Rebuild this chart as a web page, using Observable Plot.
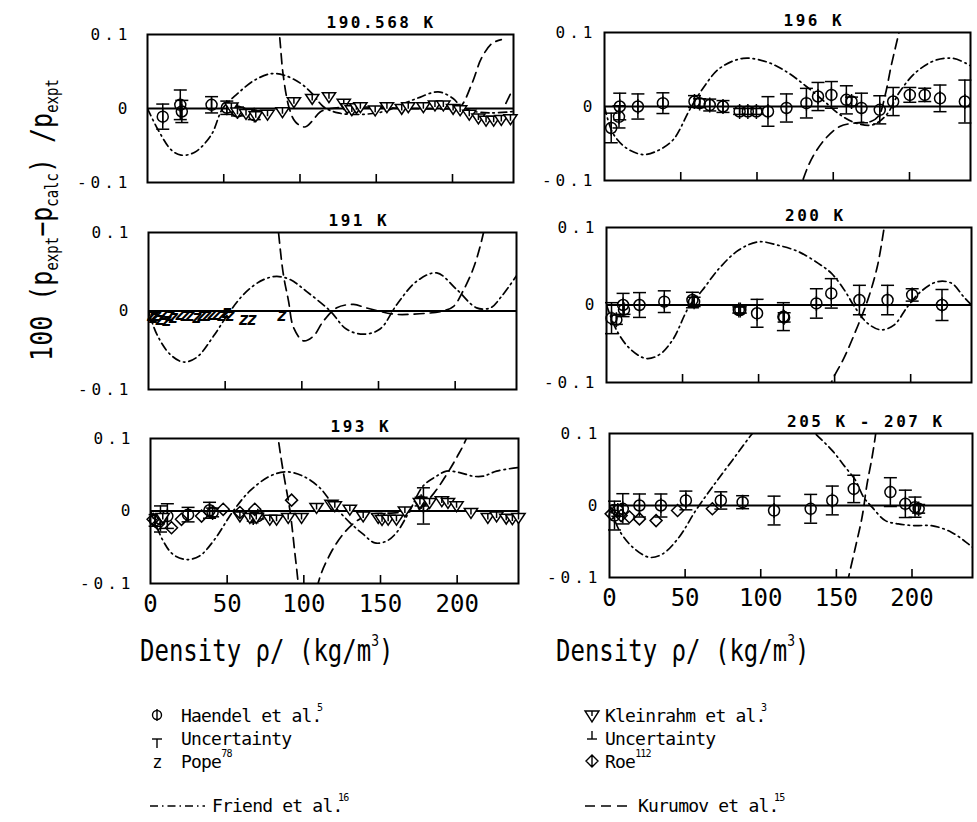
<!DOCTYPE html>
<html><head><meta charset="utf-8">
<script src="https://cdn.jsdelivr.net/npm/d3@7"></script>
<script src="https://cdn.jsdelivr.net/npm/@observablehq/plot@0.6"></script>
<style>
body{margin:0;background:#fff;}
#page{position:relative;width:977px;height:822px;overflow:hidden;font-family:"DejaVu Sans Mono",monospace;color:#000;background:#fff;}
.panel{position:absolute;}
svg [aria-label="y-axis tick label"] text{letter-spacing:4px}
.dens{position:absolute;font-size:24px;white-space:nowrap;transform:scale(1,1.25);transform-origin:left top;}
.dens sup{font-size:13px;vertical-align:0;position:relative;top:-12px;}
.ytitle{position:absolute;left:42px;top:220px;white-space:nowrap;font-size:25px;transform:translate(-50%,-50%) rotate(-90deg) scale(1,1.2);}
.ytitle sub{font-size:14px;vertical-align:0;position:relative;top:5px;}
.leg{position:absolute;font-size:18px;letter-spacing:-0.8px;white-space:nowrap;display:flex;align-items:center;height:22px;}
.leg svg{flex:none}
.leg sup{font-size:10px;vertical-align:0;position:relative;top:-8px;}
</style></head><body><div id="page"></div>
<script>
// ---- axis / text values
const xTicks = [0, 50, 100, 150, 200];
const yTicks = [-0.1, 0, 0.1];
const titles = ["190.568 K", "191 K", "193 K", "196 K", "200 K", "205 K - 207 K"];

// ---- 190.568 K
const haendelA = [[10,-0.011,0.017],[21.5,0.005,0.02],[22.5,-0.004,0.015],[42,0.005,0.011],[52,0.001,0.009],[59,-0.004,0.006],[70,-0.009,0.006]];
const kleinA = [[55,0.002],[59,-0.005],[64.6,-0.007],[71,-0.01],[78.7,-0.008],[88.5,-0.0045],[96,0.009],[108,0.0135],[119,0.0158],[128.7,0.0068],[131,0.001],[134,-0.002],[137,0.001],[139.6,0.0023],[149.3,-0.0023],[157,0.0023],[166.7,0],[171,0.0023],[180.9,0.0023],[188.5,0.0045],[194,0.0045],[200.4,0],[205,-0.002],[211,-0.008],[217,-0.013],[222,-0.016],[227,-0.016],[232,-0.015],[238,-0.014]];
const friendA = [[0,0],[7,-0.029],[15.6,-0.056],[22,-0.063],[31,-0.059],[41.7,-0.036],[49.3,0],[59,0.02],[70,0.038],[80.9,0.047],[89.6,0.045],[100.4,0.034],[108,0.02],[115.6,0.002],[125,-0.006],[140,-0.008],[155,-0.004],[166,0.005],[176.5,0.0135],[190.6,0.0225],[200.4,0.0135],[204.8,0.0045],[212,-0.003],[225,-0.006],[240,-0.004]];
const kurumovA = [[[83,0.16],[86.5,0.1],[89,0.045],[93,0.0],[97,-0.018],[103,-0.025],[108,-0.017],[113,-0.005],[120,0.0],[140,0.002],[170,0],[200,0],[205,0.002],[213,0.035],[219,0.068],[226,0.088],[232,0.093]],[[235,0.007],[239,0.024]]];

// ---- 191 K
const popeB = [[2,-0.006],[3.3,-0.0084],[5.4,-0.0063],[7.6,-0.0105],[9.8,-0.0042],[12,-0.0127],[14.1,-0.0063],[16.3,-0.0084],[20.7,-0.0042],[23.9,-0.0063],[27.2,-0.0063],[31.5,-0.0084],[34.8,-0.0063],[38,-0.0063],[41.3,-0.0042],[44.6,-0.0042],[47.8,-0.0063],[51,-0.002],[53.3,-0.0063],[62,-0.0105],[67.4,-0.0105],[87,-0.0063]];
const friendB = [[0,0],[5.4,-0.0295],[14,-0.055],[22.8,-0.065],[31.5,-0.059],[42.4,-0.032],[53.3,0],[64,0.025],[75,0.04],[83.7,0.044],[92.4,0.04],[103,0.025],[118.5,0],[129,-0.023],[140,-0.0295],[151,-0.023],[162,0.0084],[175,0.038],[188,0.0485],[201,0.0274],[214,0.004],[223,0.004],[230,0.018],[240,0.045]];
const kurumovB = [[[82,0.16],[84.8,0.1],[88,0.046],[91.3,0.013],[94.6,-0.021],[101,-0.038],[107.6,-0.032],[114,-0.013],[122.8,0.004],[133.7,0.0084],[142,0.004],[160,-0.004],[173,-0.004],[192,0],[199,0.006],[205,0.025],[212,0.055],[218.5,0.1],[221,0.13]]];

// ---- 193 K
const haendelC = [[3,-0.013,0.008],[6.5,-0.011,0.018],[11,-0.007,0.017],[24.5,-0.005,0.01],[38.5,0.001,0.011],[40.5,-0.002,0.006],[67,-0.009,0.005],[70,-0.007,0.004],[176.5,0.013,0.006],[178,0.007,0.025]];
const kleinC = [[8,-0.009],[58.3,-0.007],[64.8,-0.009],[69,-0.009],[77.8,-0.0115],[82.2,-0.0115],[89.8,-0.009],[98.5,-0.009],[108.3,0.0046],[118,0.009],[120.2,0.007],[130,0.0023],[138.7,-0.007],[148.5,-0.009],[151,-0.012],[155,-0.0115],[160.4,-0.0115],[165.9,0],[175.7,0.0115],[182,0.0115],[190,0.0138],[194,0.0115],[199.6,0.007],[209,-0.0023],[220,-0.009],[225.7,-0.007],[232,-0.01],[236,-0.011],[240,-0.009]];
const roeC = [[1.7,-0.0115],[5,-0.018],[13.7,-0.023],[20.2,-0.0115],[33.3,-0.007],[47.4,0.0023],[58.3,-0.002],[68,0.0023],[92,0.015]];
const friendC = [[0,0],[8.3,-0.0415],[14.8,-0.06],[23.5,-0.067],[32,-0.062],[41,-0.0415],[54,0],[64.8,0.0276],[77.8,0.048],[88.7,0.054],[99.6,0.048],[110.4,0.032],[119,0.009],[130,-0.016],[138.7,-0.032],[146.3,-0.044],[154,-0.0415],[160.4,-0.03],[169,0],[177.8,0.0346],[186.5,0.048],[193,0.055],[201.7,0.053],[210.4,0.048],[217,0.048],[225.7,0.055],[240,0.06]];
const kurumovC = [[[80,0.16],[83.3,0.1],[86.5,0.055],[91,0],[94,-0.055],[96.3,-0.1],[98,-0.15]],[[107,-0.15],[109.3,-0.1],[117,-0.06],[125.6,-0.032],[134.3,-0.014],[143,-0.005],[155,-0.003],[168,-0.001],[175,0.003],[185,0.025],[193,0.05],[200,0.075],[206,0.1],[210,0.13]]];

// ---- 196 K
const haendelD = [[4.4,-0.029,0.02],[9.5,-0.014,0.015],[10,0.0,0.018],[21.9,0,0.017],[38.3,0.0045,0.014],[59,0.0067,0.008],[62.4,0.0045,0.006],[69,0.002,0.008],[77.7,0,0.008],[88.6,-0.0067,0.004],[94,-0.0067,0.004],[99.6,-0.0067,0.004],[107.2,-0.0067,0.02],[119.3,-0.002,0.019],[132.4,0.0045,0.02],[140,0.0135,0.019],[148.8,0.0157,0.018],[158.6,0.009,0.019],[162,0.0067,0.006],[168.5,-0.002,0.02],[180.5,-0.0045,0.019],[189.3,0.0067,0.019],[200.2,0.0157,0.01],[210,0.0157,0.009],[220,0.011,0.018],[236.3,0.0067,0.029]];
const friendD = [[0,0],[5.5,-0.036],[14.2,-0.056],[25.2,-0.065],[34,-0.0605],[45,-0.045],[55.8,-0.0045],[64.6,0.0247],[75.5,0.0516],[90.8,0.065],[106,0.0605],[119.3,0.047],[132.4,0.027],[145.5,0.0045],[154.3,-0.011],[165,-0.0225],[176,-0.0247],[185,-0.011],[193.6,0.02],[204.6,0.047],[217.7,0.063],[228.7,0.065],[237.4,0.058],[240,0.055]];
const kurumovD = [[[125,-0.14],[130,-0.1],[136.8,-0.067],[145.5,-0.042],[154.3,-0.027],[165,-0.022],[175,-0.02],[180,-0.012],[184,0.015],[188,0.055],[193.6,0.105],[196,0.13]]];

// ---- 200 K
const haendelE = [[3.3,-0.017,0.02],[6.5,-0.019,0.006],[10.9,0,0.015],[11.5,-0.006,0.006],[21.7,0,0.016],[38,0.0043,0.014],[56.5,0.0064,0.01],[57.6,0.004,0.006],[87,-0.0064,0.004],[88,-0.0064,0.004],[99,-0.0107,0.018],[116.3,-0.015,0.018],[116.8,-0.016,0.006],[138,0.002,0.019],[147.8,0.015,0.019],[166.3,0.0064,0.019],[184.8,0.0064,0.019],[201,0.013,0.008],[220.6,0,0.02]];
const friendE = [[0,0],[6.5,-0.032],[15.2,-0.056],[26,-0.069],[34.8,-0.064],[43.5,-0.045],[54.3,-0.002],[63,0.019],[74,0.047],[87,0.071],[100,0.0815],[113,0.077],[126,0.069],[139,0.054],[147.8,0.041],[156.5,0.019],[163,-0.002],[171.7,-0.0236],[180.4,-0.032],[189,-0.026],[198,-0.002],[206.5,0.017],[217.4,0.03],[227,0.028],[234.8,0.0107],[240,0]];
const kurumovE = [[[143,-0.13],[147.8,-0.1],[156.5,-0.067],[165,-0.028],[171.7,0.006],[178,0.049],[182.6,0.1],[185,0.13]]];

// ---- 205 K - 207 K
const haendelF = [[3.3,-0.014,0.02],[5.5,-0.007,0.008],[8.8,-0.0046,0.021],[19.8,0,0.016],[34,0,0.016],[50.5,0.007,0.013],[73.6,0.007,0.012],[88,0.0046,0.009],[108.8,-0.007,0.02],[133,-0.0046,0.02],[147.3,0.007,0.02],[161.5,0.023,0.019],[185.7,0.0186,0.02],[195.6,0.0023,0.019],[202,-0.0023,0.014],[204.4,-0.0046,0.006]];
const roeF = [[1.1,-0.0116],[7.7,-0.014],[13.2,-0.016],[19.8,-0.0186],[30.8,-0.021],[45,-0.007],[68,-0.0046]];
const friendF = [[0,0],[6.6,-0.035],[15.4,-0.058],[26.4,-0.072],[35,-0.0674],[46,-0.044],[57,-0.007],[68,0.0256],[81.3,0.063],[94.5,0.1],[105,0.125],[115,0.132],[125,0.125],[136,0.1],[147,0.077],[156,0.053],[162.6,0.035],[168,0.0116],[173.6,-0.0023],[182.4,-0.021],[191,-0.0256],[202,-0.028],[213,-0.028],[226,-0.037],[237,-0.053],[240,-0.058]];
const kurumovF = [[[155,-0.13],[158,-0.1],[162.6,-0.058],[167,-0.016],[170.3,0.03],[173.6,0.067],[176,0.1],[177.5,0.13]]];

// ---- custom symbols
const phi = {draw(c, s){const r=Math.sqrt(s/Math.PI); c.moveTo(r,0); c.arc(0,0,r,0,2*Math.PI); c.moveTo(0,-r*1.35); c.lineTo(0,r*1.35);}};
const cap = {draw(c, s){const r=Math.sqrt(s/Math.PI); c.moveTo(-r,0); c.lineTo(r,0);}};
const tri = {draw(c, s){const r=Math.sqrt(s/Math.PI); const t=-r*0.75, b=r*1.05; c.moveTo(-r*1.2,t); c.lineTo(r*1.2,t); c.lineTo(0,b); c.closePath(); c.moveTo(0,t); c.lineTo(0,r*0.35);}};
const diam = {draw(c, s){const r=Math.sqrt(s/Math.PI); c.moveTo(0,-r); c.lineTo(r,0); c.lineTo(0,r); c.lineTo(-r,0); c.closePath();}};

const FRIEND_DASH = "8,4,1.5,4";
const KUR_DASH = "10,6";

const panels = [
  {title: titles[0], left:147, right:513, top:34, bottom:182, pad:16, haendel: haendelA, klein: kleinA, friend: friendA, kurumov: kurumovA},
  {title: titles[1], left:148, right:516, top:232, bottom:389, pad:16, pope: popeB, friend: friendB, kurumov: kurumovB},
  {title: titles[2], left:150, right:518, top:438, bottom:583, pad:16, haendel: haendelC, klein: kleinC, roe: roeC, friend: friendC, kurumov: kurumovC, bottomRow:true},
  {title: titles[3], left:604, right:970, top:32, bottom:180, pad:8, haendel: haendelD, friend: friendD, kurumov: kurumovD},
  {title: titles[4], left:606, right:971, top:227, bottom:382, pad:8, haendel: haendelE, friend: friendE, kurumov: kurumovE},
  {title: titles[5], left:609, right:972, top:433, bottom:577, pad:8, haendel: haendelF, roe: roeF, friend: friendF, kurumov: kurumovF, bottomRow:true}
];

const ML = 75, MR = 4, MT = 30;
const fmtY = d => d === 0 ? "0" : (d < 0 ? "-" : "") + Math.abs(d).toFixed(1);
const page = document.getElementById("page");

function segs(list){ return list.flatMap((s, i) => s.map(p => ({x:p[0], y:p[1], z:i}))); }

for (const p of panels) {
  const fw = p.right - p.left, fh = p.bottom - p.top;
  const MB = p.bottomRow ? 40 : 4;
  const marks = [
    Plot.ruleY([0], {strokeWidth: 1.8}),
    Plot.frame({strokeWidth: 2}),
    Plot.tickX(xTicks.slice(1), {x: d => d, insetTop: fh - 8, strokeWidth: 1.6}),
    Plot.axisY(yTicks, {tickSize: 0, tickPadding: p.pad, fontSize: 16, tickFormat: fmtY, label: null}),
    Plot.text([p.title], {frameAnchor: "top", textAnchor: "start", dx: -4, dy: -7, lineAnchor: "bottom", fontSize: 16, fontWeight: "bold"}),
    Plot.line(p.friend, {x: d => d[0], y: d => d[1], curve: "catmull-rom", clip: true, strokeWidth: 1.7, strokeDasharray: FRIEND_DASH}),
    Plot.line(segs(p.kurumov), {x: "x", y: "y", z: "z", curve: "catmull-rom", clip: true, strokeWidth: 1.7, strokeDasharray: KUR_DASH})
  ];
  if (p.bottomRow) marks.push(Plot.axisX(xTicks, {tickSize: 0, tickPadding: 11, fontSize: 24, label: null}));
  if (p.haendel) {
    marks.push(
      Plot.ruleX(p.haendel, {x: d => d[0], y1: d => d[1] - d[2], y2: d => d[1] + d[2], strokeWidth: 1.5}),
      Plot.dot(p.haendel, {x: d => d[0], y: d => d[1] + d[2], symbol: cap, r: 6.5, stroke: "black", strokeWidth: 1.5}),
      Plot.dot(p.haendel, {x: d => d[0], y: d => d[1] - d[2], symbol: cap, r: 6.5, stroke: "black", strokeWidth: 1.5}),
      Plot.dot(p.haendel, {x: d => d[0], y: d => d[1], symbol: phi, r: 5.5, stroke: "black", strokeWidth: 1.5, fill: "none"})
    );
  }
  if (p.klein) marks.push(Plot.dot(p.klein, {x: d => d[0], y: d => d[1], symbol: tri, r: 5.5, stroke: "black", strokeWidth: 1.5, fill: "white"}));
  if (p.roe) marks.push(Plot.dot(p.roe, {x: d => d[0], y: d => d[1], symbol: diam, r: 6, stroke: "black", strokeWidth: 1.5, fill: "none"}));
  if (p.pope) marks.push(Plot.text(p.pope, {x: d => d[0], y: d => d[1], text: () => "z", fontSize: 17, fontWeight: "bold", fontStyle: "italic"}));

  const chart = Plot.plot({
    width: ML + fw + MR, height: MT + fh + MB,
    marginLeft: ML, marginRight: MR, marginTop: MT, marginBottom: MB,
    x: p.bottomRow ? {domain: [0, 240], label: null} : {domain: [0, 240], axis: null, label: null},
    y: {domain: [-0.1, 0.1], label: null},
    style: {fontFamily: "DejaVu Sans Mono", fontSize: "16px", background: "transparent", color: "black", overflow: "visible"},
    marks
  });
  // widen the letter spacing of the panel title to match the plotter lettering
  chart.querySelectorAll("text").forEach(t => { if (t.textContent === p.title) t.style.letterSpacing = "2.5px"; });
  const wrap = document.createElement("div");
  wrap.className = "panel";
  wrap.style.left = (p.left - ML) + "px";
  wrap.style.top = (p.top - MT) + "px";
  wrap.appendChild(chart);
  page.appendChild(wrap);
}

// ---- text: axis titles and legend
page.insertAdjacentHTML("beforeend", `
<div class="ytitle">100 (p<sub>expt</sub>−p<sub>calc</sub>) /p<sub>expt</sub></div>
<div class="dens" style="left:140px;top:633px">Density ρ/ (kg/m<sup>3</sup>)</div>
<div class="dens" style="left:556px;top:633px">Density ρ/ (kg/m<sup>3</sup>)</div>

<div class="leg" style="left:148px;top:704px"><svg width="33" height="22"><circle cx="9" cy="11" r="4.5" fill="none" stroke="black" stroke-width="1.4"/><line x1="9" y1="5" x2="9" y2="17" stroke="black" stroke-width="1.4"/></svg>Haendel et al.<sup style="margin-left:-0.45em">5</sup></div>
<div class="leg" style="left:148px;top:727px"><svg width="33" height="22"><line x1="4" y1="12" x2="14" y2="12" stroke="black" stroke-width="1.4"/><line x1="9" y1="12" x2="9" y2="21" stroke="black" stroke-width="1.4"/></svg>Uncertainty</div>
<div class="leg" style="left:148px;top:750px"><svg width="33" height="22"><text x="9" y="18" text-anchor="middle" font-size="17" font-family="DejaVu Sans Mono">z</text></svg>Pope<sup>78</sup></div>
<div class="leg" style="left:148px;top:794px"><svg width="64" height="22"><line x1="2" y1="12" x2="57" y2="12" stroke="black" stroke-width="1.5" stroke-dasharray="8,4,1.5,4"/></svg>Friend et al.<sup style="margin-left:-0.45em">16</sup></div>

<div class="leg" style="left:583px;top:704px"><svg width="22" height="22"><path d="M2,7 L16,7 L9,18 Z M9,7 L9,12" fill="none" stroke="black" stroke-width="1.4"/></svg>Kleinrahm et al.<sup style="margin-left:-0.45em">3</sup></div>
<div class="leg" style="left:583px;top:727px"><svg width="22" height="22"><line x1="9" y1="4" x2="9" y2="12" stroke="black" stroke-width="1.4"/><line x1="4" y1="12" x2="14" y2="12" stroke="black" stroke-width="1.4"/></svg>Uncertainty</div>
<div class="leg" style="left:583px;top:750px"><svg width="22" height="22"><path d="M9,5 L15,11 L9,17 L3,11 Z M9,5 L9,17" fill="none" stroke="black" stroke-width="1.4"/></svg>Roe<sup>112</sup></div>
<div class="leg" style="left:583px;top:794px"><svg width="55" height="22"><line x1="2" y1="12" x2="50" y2="12" stroke="black" stroke-width="1.5" stroke-dasharray="10,6"/></svg>Kurumov et al.<sup style="margin-left:-0.45em">15</sup></div>
`);
</script>
</body></html>
